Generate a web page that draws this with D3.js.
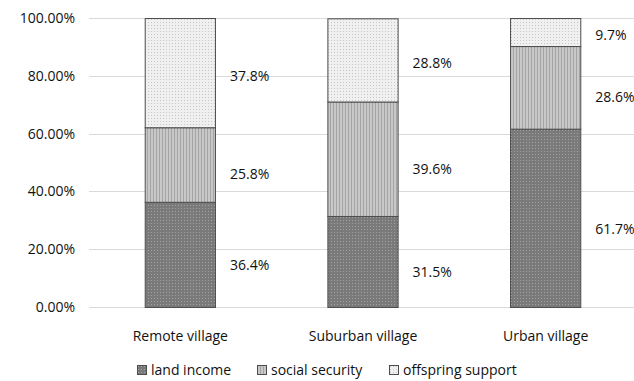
<!DOCTYPE html>
<html>
<head>
<meta charset="utf-8">
<script src="https://cdn.jsdelivr.net/npm/d3@7"></script>
<style>
  html, body { margin: 0; padding: 0; background: #fff; }
  svg { display: block; }
  text { font-family: "Open Sans", "Liberation Sans", sans-serif; fill: #111; font-weight: 500; }
</style>
</head>
<body>
<svg id="chart" width="634" height="381"></svg>
<script>
// Sources of old-age support by village type (shares, %)
const categories = ["Remote village", "Suburban village", "Urban village"];
const seriesNames = ["land income", "social security", "offspring support"];
const landIncome = [36.4, 31.5, 61.7];
const socialSecurity = [25.8, 39.6, 28.6];
const offspringSupport = [37.8, 28.8, 9.7];
const yTicks = [0, 20, 40, 60, 80, 100];

const seriesValues = [landIncome, socialSecurity, offspringSupport];

const svg = d3.select("#chart");
const W = 634, H = 381;
const margin = { top: 18, right: -3, bottom: 74, left: 89 };

const x = d3.scaleBand()
  .domain(categories)
  .range([margin.left, W - margin.right])
  .paddingInner(0.61)
  .paddingOuter(0.305);

const y = d3.scaleLinear()
  .domain([0, 100])
  .range([H - margin.bottom, margin.top]);

// Fill patterns for the three series
const defs = svg.append("defs");

const pLand = defs.append("pattern").attr("id", "p-land")
  .attr("patternUnits", "userSpaceOnUse").attr("width", 3).attr("height", 3);
pLand.append("rect").attr("width", 3).attr("height", 3).attr("fill", "#7a7a7a");
pLand.append("rect").attr("x", 1).attr("y", 1).attr("width", 1).attr("height", 1).attr("fill", "#a2a2a2");

const pSocial = defs.append("pattern").attr("id", "p-social")
  .attr("patternUnits", "userSpaceOnUse").attr("width", 3).attr("height", 3);
pSocial.append("rect").attr("width", 3).attr("height", 3).attr("fill", "#c8c8c8");
pSocial.append("rect").attr("x", 0).attr("width", 1).attr("height", 3).attr("fill", "#a4a4a4");

const pOff = defs.append("pattern").attr("id", "p-off")
  .attr("patternUnits", "userSpaceOnUse").attr("width", 3).attr("height", 3);
pOff.append("rect").attr("width", 3).attr("height", 3).attr("fill", "#f0f0f0");
pOff.append("rect").attr("x", 1).attr("y", 1).attr("width", 1).attr("height", 1).attr("fill", "#c6c6c6");

const fills = ["url(#p-land)", "url(#p-social)", "url(#p-off)"];

// Gridlines
svg.append("g")
  .selectAll("line")
  .data(yTicks)
  .join("line")
  .attr("x1", margin.left)
  .attr("x2", W)
  .attr("y1", d => Math.round(y(d)) + 0.5)
  .attr("y2", d => Math.round(y(d)) + 0.5)
  .attr("stroke", "#d9d9d9")
  .attr("stroke-width", 1);

// Y axis labels
const yAxis = d3.axisLeft(y)
  .tickValues(yTicks)
  .tickSize(0)
  .tickPadding(0)
  .tickFormat(d => d.toFixed(2) + "%");
const yg = svg.append("g")
  .attr("transform", `translate(${margin.left - 14},0)`)
  .call(yAxis);
yg.select(".domain").remove();
yg.selectAll("text").attr("font-size", 14).attr("fill", "#111")
  .attr("font-family", "'Open Sans', sans-serif");

// Stack the series
const rows = categories.map((c, i) => {
  const r = { category: c };
  seriesNames.forEach((s, k) => { r[s] = seriesValues[k][i]; });
  return r;
});
const stacked = d3.stack().keys(seriesNames)(rows);

const layer = svg.append("g")
  .selectAll("g")
  .data(stacked)
  .join("g")
  .attr("fill", (d, k) => fills[k]);

layer.selectAll("rect")
  .data(d => d)
  .join("rect")
  .attr("x", d => x(d.data.category) + 0.5)
  .attr("y", d => y(d[1]) + 0.5)
  .attr("width", x.bandwidth() - 1)
  .attr("height", d => y(d[0]) - y(d[1]))
  .attr("stroke", "#4d4d4d")
  .attr("stroke-width", 1);

// Value labels to the right of each segment
const labelShift = [11, 10, 3];
stacked.forEach((s, k) => {
  svg.append("g")
    .selectAll("text")
    .data(s)
    .join("text")
    .attr("x", d => x(d.data.category) + x.bandwidth() + 14)
    .attr("y", d => y((d[0] + d[1]) / 2) + labelShift[k])
    .attr("dy", "0.35em")
    .attr("font-size", 14)
    .text(d => (d[1] - d[0]).toFixed(1) + "%");
});

// Category axis labels
const xAxis = d3.axisBottom(x).tickSize(0).tickPadding(0);
const xg = svg.append("g")
  .attr("transform", `translate(0,${H - margin.bottom + 24})`)
  .call(xAxis);
xg.select(".domain").remove();
xg.selectAll("text").attr("font-size", 14).attr("fill", "#111")
  .attr("font-family", "'Open Sans', sans-serif");

// Legend
const legendX = [137, 257, 389];
const legend = svg.append("g")
  .selectAll("g")
  .data(seriesNames)
  .join("g")
  .attr("transform", (d, k) => `translate(${legendX[k]},${365})`);
legend.append("rect")
  .attr("x", 0.5).attr("y", 0.5)
  .attr("width", 9).attr("height", 9)
  .attr("fill", (d, k) => fills[k])
  .attr("stroke", "#4d4d4d");
legend.append("text")
  .attr("x", 14)
  .attr("y", 5)
  .attr("dy", "0.35em")
  .attr("font-size", 14)
  .text(d => d);
</script>
</body>
</html>
